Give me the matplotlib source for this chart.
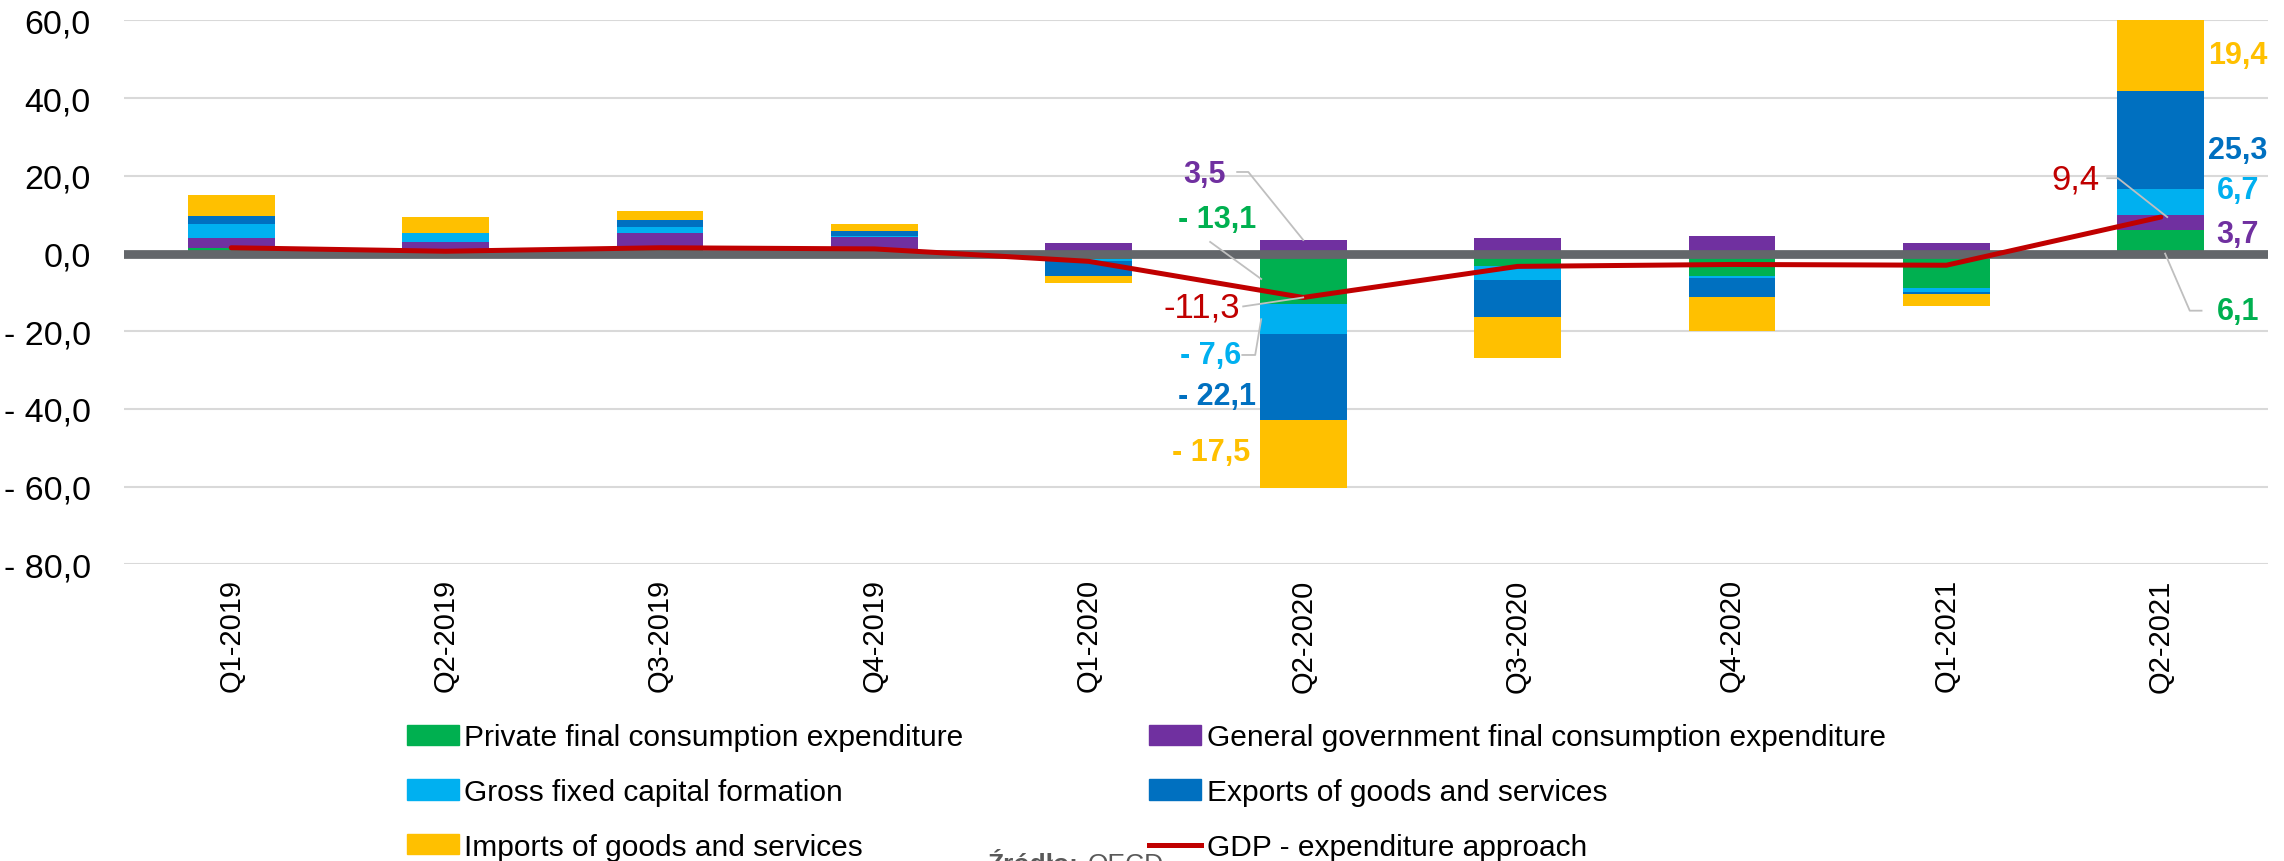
import numpy as np
import matplotlib
matplotlib.use("Agg")
import matplotlib.pyplot as plt
from matplotlib.patches import Patch
from matplotlib.lines import Line2D

plt.rcParams['font.family'] = ['Liberation Sans', 'DejaVu Sans']

# Data
quarters = ["Q1-2019", "Q2-2019", "Q3-2019", "Q4-2019", "Q1-2020",
            "Q2-2020", "Q3-2020", "Q4-2020", "Q1-2021", "Q2-2021"]
private_cons = [1.5, 1.2, 1.9, 0.5, -1.5, -13.1, -3.1, -5.9, -8.8, 6.1]
gov_cons = [2.6, 1.9, 3.4, 3.8, 2.7, 3.5, 4.0, 4.5, 2.7, 3.7]
gfcf = [3.6, 2.1, 1.6, 0.2, -0.5, -7.6, -3.8, -0.4, -1.1, 6.7]
exports = [2.0, 0.2, 1.8, 1.2, -3.9, -22.1, -9.4, -5.0, -0.5, 25.3]
imports = [5.5, 3.9, 2.3, 1.9, -1.7, -17.5, -10.5, -8.6, -3.1, 19.4]
gdp = [1.5, 0.6, 1.5, 1.2, -2.0, -11.3, -3.3, -2.8, -3.0, 9.4]

series_names = ["Private final consumption expenditure",
                "General government final consumption expenditure",
                "Gross fixed capital formation",
                "Exports of goods and services",
                "Imports of goods and services"]
gdp_name = "GDP - expenditure approach"
colors = ["#00B050", "#7030A0", "#00B0F0", "#0070C0", "#FFC000"]
gdp_color = "#C00000"

y_ticks = [-80, -60, -40, -20, 0, 20, 40, 60]


def fmt_bar(v):
    s = f"{abs(v):.1f}".replace(".", ",")
    return "- " + s if v < 0 else s


fig = plt.figure(figsize=(22.84, 8.62), dpi=100)
ax = fig.add_axes([0.0543, 0.3441, 0.9387, 0.631])

x = np.arange(len(quarters))
all_series = [private_cons, gov_cons, gfcf, exports, imports]
pos_bottom = np.zeros(len(x))
neg_bottom = np.zeros(len(x))
for vals, col in zip(all_series, colors):
    vals = np.array(vals)
    bottoms = np.where(vals >= 0, pos_bottom, neg_bottom)
    ax.bar(x, vals, width=0.405, bottom=bottoms, color=col, zorder=2)
    pos_bottom = pos_bottom + np.where(vals >= 0, vals, 0)
    neg_bottom = neg_bottom + np.where(vals < 0, vals, 0)

ax.axhline(0, color="#63666A", lw=6.3, zorder=3)
ax.plot(x, gdp, color=gdp_color, lw=3.6, zorder=4,
        solid_joinstyle="round", solid_capstyle="round")

ax.set_xlim(-0.5, len(quarters) - 0.5)
ax.set_ylim(-80, 60)
ax.set_yticks(y_ticks)
ax.set_yticklabels([fmt_bar(v) for v in y_ticks], fontsize=24.5)
ax.set_xticks(x)
ax.set_xticklabels(quarters, rotation=90, fontsize=21)
ax.tick_params(axis="y", length=0, pad=24)
ax.tick_params(axis="x", length=0, pad=10)
ax.yaxis.grid(True, color="#D9D9D9", lw=1.5)
ax.set_axisbelow(True)
for sp in ax.spines.values():
    sp.set_visible(False)

lab = dict(fontsize=22, fontweight="bold", ha="center", va="center")

# Data labels for Q2-2020 (index 5)
i = 5
ax.text(i - 0.46, 20.5, fmt_bar(gov_cons[i]), color=colors[1], **lab)
ax.text(i - 0.40, 8.9, fmt_bar(private_cons[i]), color=colors[0], **lab)
ax.text(i - 0.475, -13.8, f"{gdp[i]:.1f}".replace(".", ","), color=gdp_color,
        fontsize=25, ha="center", va="center")
ax.text(i - 0.43, -26.1, fmt_bar(gfcf[i]), color=colors[2], **lab)
ax.text(i - 0.40, -36.6, fmt_bar(exports[i]), color=colors[3], **lab)
ax.text(i - 0.43, -51.0, fmt_bar(imports[i]), color=colors[4], **lab)

# Data labels for Q2-2021 (index 9)
j = 9
ax.text(j + 0.358, 51.1, fmt_bar(imports[j]), color=colors[4], **lab)
ax.text(j + 0.358, 26.7, fmt_bar(exports[j]), color=colors[3], **lab)
ax.text(j + 0.36, 16.4, fmt_bar(gfcf[j]), color=colors[2], **lab)
ax.text(j + 0.36, 5.1, fmt_bar(gov_cons[j]), color=colors[1], **lab)
ax.text(j + 0.36, -14.7, fmt_bar(private_cons[j]), color=colors[0], **lab)
ax.text(j - 0.40, 19.2, f"{gdp[j]:.1f}".replace(".", ","), color=gdp_color,
        fontsize=25, ha="center", va="center")

# Leader lines
lc = "#BFBFBF"
lw = 1.3
ax.plot([i - 0.308, i - 0.256, i], [21.0, 21.0, gov_cons[i]], color=lc, lw=lw, zorder=5)
ax.plot([i - 0.434, i - 0.196], [3.0, private_cons[i] / 2], color=lc, lw=lw, zorder=5)
ax.plot([i - 0.28, i], [-13.6, gdp[i]], color=lc, lw=lw, zorder=5)
ax.plot([i - 0.284, i - 0.224, i - 0.196], [-26.1, -26.1, private_cons[i] + gfcf[i] / 2],
        color=lc, lw=lw, zorder=5)
ax.plot([j + 0.19, j + 0.135, j + 0.02], [-14.7, -14.7, 0], color=lc, lw=lw, zorder=5)
ax.plot([j - 0.25, j - 0.2, j + 0.03], [19.4, 19.4, gdp[j]], color=lc, lw=lw, zorder=5)

# Legend (column-major order for 2 columns)
handles = [Patch(color=c) for c in colors] + [Line2D([], [], color=gdp_color, lw=3.6)]
labels = series_names + [gdp_name]
order = [0, 2, 4, 1, 3, 5]
fig.legend([handles[k] for k in order], [labels[k] for k in order],
           loc="upper left", bbox_to_anchor=(0.178, 0.160), ncol=2,
           frameon=False, fontsize=21.5, handlelength=1.74, handleheight=0.66,
           handletextpad=0.2, columnspacing=6.2, labelspacing=0.9,
           borderaxespad=0, borderpad=0)

fig.text(987 / 2284, 1 - 853 / 862, "Źródło:", fontsize=19, fontweight="bold",
         color="#595959", va="top")
fig.text(1088 / 2284, 1 - 853 / 862, "OECD", fontsize=19, color="#595959", va="top")

fig.savefig("out.png", dpi=100)
